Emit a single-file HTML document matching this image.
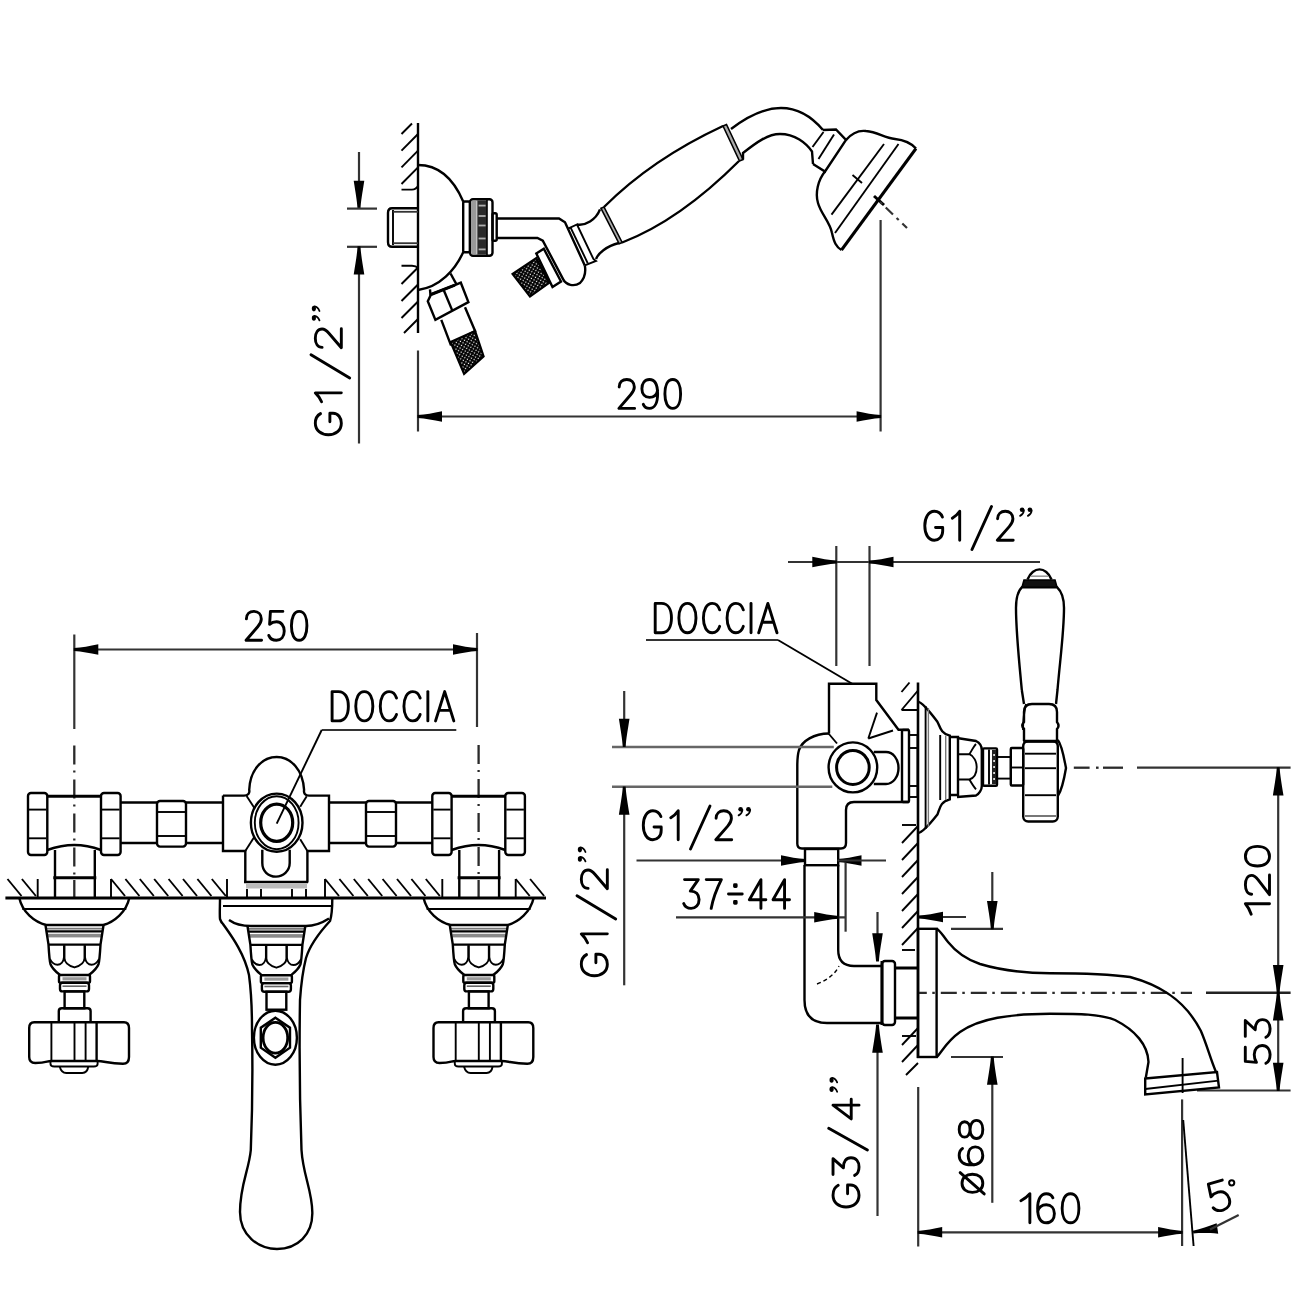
<!DOCTYPE html>
<html><head><meta charset="utf-8"><title>drawing</title><style>
html,body{margin:0;padding:0;background:#fff;width:1300px;height:1300px;overflow:hidden}
svg{display:block}
text{font-family:"Liberation Sans",sans-serif;fill:#000}
</style></head><body>
<svg width="1300" height="1300" viewBox="0 0 1300 1300">
<defs>
<pattern id="xh" width="3" height="3" patternUnits="userSpaceOnUse" patternTransform="rotate(30)">
<rect width="3" height="3" fill="#fff"/>
<path d="M0,0.9 H3 M0.9,0 V3" stroke="#000" stroke-width="1.8"/>
</pattern>
</defs>
<rect width="1300" height="1300" fill="#fff"/>
<line x1="418" y1="123" x2="418" y2="333" stroke="#000" stroke-width="2.4" fill="none"/>
<line x1="401.5" y1="134" x2="412" y2="123.5" stroke="#000" stroke-width="1.9" fill="none"/>
<line x1="401.5" y1="150.7" x2="418" y2="134" stroke="#000" stroke-width="1.9" fill="none"/>
<line x1="401.5" y1="167.3" x2="418" y2="150.6" stroke="#000" stroke-width="1.9" fill="none"/>
<line x1="401.5" y1="184" x2="418" y2="167.3" stroke="#000" stroke-width="1.9" fill="none"/>
<path d="M401.5,189.6 H412 Q416,189.6 418,186" stroke="#000" stroke-width="1.9" fill="none"/>
<path d="M401.5,265.8 H412 Q416,265.8 418,268" stroke="#000" stroke-width="1.9" fill="none"/>
<line x1="401.5" y1="284" x2="418" y2="267.5" stroke="#000" stroke-width="1.9" fill="none"/>
<line x1="401.5" y1="301" x2="418" y2="284.5" stroke="#000" stroke-width="1.9" fill="none"/>
<line x1="401.5" y1="318" x2="418" y2="301.5" stroke="#000" stroke-width="1.9" fill="none"/>
<line x1="404" y1="333" x2="418" y2="319" stroke="#000" stroke-width="1.9" fill="none"/>
<path d="M418,208.3 H392 Q388,208.3 388,213 V242 Q388,246.8 392,246.8 H418" stroke="#000" stroke-width="2.4" fill="none"/>
<line x1="393" y1="210" x2="393" y2="245" stroke="#000" stroke-width="1.9" fill="none"/>
<line x1="393" y1="211.8" x2="418" y2="211.8" stroke="#333" stroke-width="1.8"/>
<line x1="393" y1="243.2" x2="418" y2="243.2" stroke="#333" stroke-width="1.8"/>
<path d="M418,165 C440,165 454,180 463.2,201.5" stroke="#000" stroke-width="2.4" fill="none"/>
<path d="M463.2,252.3 C455,270 440,287 418,290" stroke="#000" stroke-width="2.4" fill="none"/>
<rect x="463.2" y="201.5" width="6.8" height="50.8" rx="1.5" stroke="#000" stroke-width="2.4" fill="none"/>
<rect x="470" y="199.2" width="22.5" height="56.6" rx="3" stroke="#000" stroke-width="2.4" fill="none"/>
<rect x="471.4" y="200.6" width="5.2" height="53.8" rx="0" fill="#9a9a9a" stroke="none"/>
<rect x="477.3" y="200.4" width="9.6" height="54.2" rx="0" fill="#2a2a2a" stroke="none"/>
<rect x="478.6" y="204.7" width="7" height="1.8" rx="0" fill="#b0b0b0" stroke="none"/>
<rect x="478.6" y="215.1" width="7" height="1.8" rx="0" fill="#b0b0b0" stroke="none"/>
<rect x="478.6" y="224.6" width="7" height="1.8" rx="0" fill="#b0b0b0" stroke="none"/>
<rect x="478.6" y="237.6" width="7" height="1.8" rx="0" fill="#b0b0b0" stroke="none"/>
<rect x="478.6" y="248.5" width="7" height="1.8" rx="0" fill="#b0b0b0" stroke="none"/>
<line x1="487" y1="200" x2="487" y2="255" stroke="#000" stroke-width="1.6"/>
<rect x="492.5" y="213.2" width="4.2" height="27.6" rx="1.5" stroke="#000" stroke-width="2.4" fill="none"/>
<path d="M496.7,218.5 H559 L565,222.3 L584.8,265.4" stroke="#000" stroke-width="2.4" fill="none"/>
<path d="M496.7,238 H537.4 L542.8,240.6 L563.2,279.4 C566,285 574,287 580,283 C584,279 586,272 584.8,265.4" stroke="#000" stroke-width="2.4" fill="none"/>
<path d="M567.5,228.8 L577,224.5 L593.4,259 L596,261 L584.8,265.4" stroke="#000" stroke-width="1.9" fill="none"/>
<line x1="570.5" y1="227.3" x2="587.8" y2="263.3" stroke="#000" stroke-width="1.9" fill="none"/>
<path d="M577,224.5 C585,226 596,220 600,209.4" stroke="#000" stroke-width="2.4" fill="none"/>
<path d="M596,259 C598,254 606,246 619,243" stroke="#000" stroke-width="2.4" fill="none"/>
<polygon points="601,208.3 604,207 622.2,242.5 619.2,243.8" fill="#aaa" stroke="#000" stroke-width="1.6"/>
<path d="M604,207 C638,173 680,146 723,126" stroke="#000" stroke-width="2.4" fill="none"/>
<path d="M622.2,242.5 C665,226 705,195 739,161" stroke="#000" stroke-width="2.4" fill="none"/>
<polygon points="723,126 726.5,124.5 743,159.5 739.5,161" fill="#aaa" stroke="#000" stroke-width="1.6"/>
<path d="M731,129 C748,116 765,108 781,108 C798,108 812,117 823,130" stroke="#000" stroke-width="2.4" fill="none"/>
<path d="M743,159.5 L743,153 C757,142 768,134 780,134 C795,134 806,143 812,151.5 L813,164" stroke="#000" stroke-width="2.4" fill="none"/>
<path d="M823,130 L836,129.5 L846,140 L825,171.5 L813,164" stroke="#000" stroke-width="2.4" fill="none"/>
<line x1="812.5" y1="147" x2="823.5" y2="132" stroke="#000" stroke-width="1.9" fill="none"/>
<line x1="818.5" y1="159" x2="834" y2="134.5" stroke="#000" stroke-width="1.9" fill="none"/>
<path d="M846,140 C852,133 858,130 866,131 C878,132 884,138 895,139 C905,140 911,143 916,148.5" stroke="#000" stroke-width="2.4" fill="none"/>
<line x1="916" y1="148.5" x2="841.5" y2="250" stroke="#000" stroke-width="3"/>
<path d="M825,171.5 C818,180 815,193 818,203 C821,214 830,222 832,233 C834,242 836,247 841.5,250" stroke="#000" stroke-width="2.4" fill="none"/>
<line x1="884" y1="144" x2="831.5" y2="214.6" stroke="#000" stroke-width="1.9" fill="none"/>
<line x1="898.5" y1="144" x2="835" y2="233" stroke="#000" stroke-width="1.9" fill="none"/>
<line x1="852.5" y1="175" x2="862" y2="183" stroke="#000" stroke-width="1.9" fill="none"/>
<line x1="874" y1="196" x2="884" y2="205" stroke="#000" stroke-width="3"/>
<line x1="880" y1="202" x2="907" y2="228" stroke="#333" stroke-width="2.2" fill="none" stroke-dasharray="3 5 10 5"/>
<line x1="359" y1="152" x2="359" y2="208.6" stroke="#333" stroke-width="2.2" fill="none"/>
<path transform="translate(359 208.6) rotate(90)" d="M0.5,-1.4 C-8,-2 -15,-3.3 -27.8,-5.3 L-27.8,5.3 C-15,3.3 -8,2 0.5,1.4 Z" fill="#000"/>
<line x1="347" y1="208.6" x2="377" y2="208.6" stroke="#333" stroke-width="2.2" fill="none"/>
<line x1="347" y1="246.8" x2="377" y2="246.8" stroke="#333" stroke-width="2.2" fill="none"/>
<line x1="359" y1="246.8" x2="359" y2="443.5" stroke="#333" stroke-width="2.2" fill="none"/>
<path transform="translate(359 246.8) rotate(-90)" d="M0.5,-1.4 C-8,-2 -15,-3.3 -27.8,-5.3 L-27.8,5.3 C-15,3.3 -8,2 0.5,1.4 Z" fill="#000"/>
<g transform="translate(342.5 436.3) rotate(-90) scale(1.2 0.9)"><path transform="translate(1.3 -1.3) scale(0.2983 0.2890)" d="M59,-80 C54,-93 44,-100 32,-100 C12,-100 0,-78 0,-50 C0,-21 12,0 32,0 C47,0 60,-12 60,-32 V-44 H36" fill="none" stroke="#000" stroke-width="2.9" stroke-linecap="round" stroke-linejoin="round" vector-effect="non-scaling-stroke"/><path transform="translate(28.8 -1.3) scale(0.2467 0.2890)" d="M0,-76 C12,-82 22,-90 30,-100 V0" fill="none" stroke="#000" stroke-width="2.9" stroke-linecap="round" stroke-linejoin="round" vector-effect="non-scaling-stroke"/><path d="M48.5,8 L68,-35" fill="none" stroke="#000" stroke-width="2.9" stroke-linecap="round" stroke-linejoin="round" vector-effect="non-scaling-stroke"/><path transform="translate(73.8 -1.3) scale(0.2839 0.2890)" d="M1,-74 C1,-91 13,-100 28,-100 C44,-100 55,-90 55,-74 C55,-63 50,-56 42,-47 L0,0 H56" fill="none" stroke="#000" stroke-width="2.9" stroke-linecap="round" stroke-linejoin="round" vector-effect="non-scaling-stroke"/><circle cx="98.6" cy="-31.8" r="2.3" fill="#000"/><path d="M100.4,-31 C100.2,-28.5 98.8,-26.8 96.6,-25.6" fill="none" stroke="#000" stroke-width="1.8" stroke-linecap="round" vector-effect="non-scaling-stroke"/><circle cx="106.4" cy="-31.8" r="2.3" fill="#000"/><path d="M108.2,-31 C108,-28.5 106.6,-26.8 104.4,-25.6" fill="none" stroke="#000" stroke-width="1.8" stroke-linecap="round" vector-effect="non-scaling-stroke"/></g>
<path d="M430,289.3 L430.5,295.5" stroke="#000" stroke-width="2.4" fill="none"/>
<path d="M450.5,273.5 L456.5,284.3" stroke="#000" stroke-width="2.4" fill="none"/>
<polygon points="427.8,301.3 431,294.5 454.8,285.2 460.8,282.7 468.4,302.1 435.4,319.9" stroke="#000" stroke-width="2.4" fill="none"/>
<line x1="431" y1="294.5" x2="454.8" y2="285.2" stroke="#000" stroke-width="3"/>
<line x1="443.8" y1="290.3" x2="452.3" y2="310.6" stroke="#000" stroke-width="2.4" fill="none"/>
<path d="M441.3,319.9 L450.6,344.4 L475.1,331 L465,307.2" stroke="#000" stroke-width="2.4" fill="none"/>
<polygon points="450.6,342 475.1,331 483.6,356.3 464.1,374" fill="url(#xh)" stroke="#000" stroke-width="2.2"/>
<polygon points="536.3,253.5 543.8,248.7 561,281.5 552.5,287" stroke="#000" stroke-width="2.4" fill="none"/>
<polygon points="512.6,274 536.3,258 549,283 530,296.6" fill="url(#xh)" stroke="#000" stroke-width="2.2"/>
<line x1="418" y1="350.5" x2="418" y2="431.5" stroke="#333" stroke-width="2.2" fill="none"/>
<line x1="880.6" y1="220" x2="880.6" y2="431.5" stroke="#333" stroke-width="2.2" fill="none"/>
<line x1="418" y1="416.5" x2="880.6" y2="416.5" stroke="#333" stroke-width="2.2" fill="none"/>
<path transform="translate(418 416.5) rotate(180)" d="M0.5,-1.4 C-8,-2 -15,-3.3 -24,-5.3 L-24,5.3 C-15,3.3 -8,2 0.5,1.4 Z" fill="#000"/>
<path transform="translate(880.6 416.5) rotate(0)" d="M0.5,-1.4 C-8,-2 -15,-3.3 -24,-5.3 L-24,5.3 C-15,3.3 -8,2 0.5,1.4 Z" fill="#000"/>
<g transform="translate(618.9 408.4) scale(0.2805 0.2890)"><path transform="translate(0 0)" d="M1,-74 C1,-91 13,-100 28,-100 C44,-100 55,-90 55,-74 C55,-63 50,-56 42,-47 L0,0 H56" fill="none" stroke="#000" stroke-width="2.9" stroke-linecap="round" stroke-linejoin="round" vector-effect="non-scaling-stroke"/><path transform="translate(82 0)" d="M5,-14 C9,-5 17,0 27,0 C46,0 56,-20 56,-50 C56,-83 45,-100 27,-100 C10,-100 0,-87 0,-68 C0,-50 11,-38 27,-38 C42,-38 53,-48 56,-62" fill="none" stroke="#000" stroke-width="2.9" stroke-linecap="round" stroke-linejoin="round" vector-effect="non-scaling-stroke"/><path transform="translate(164 0)" d="M28,-100 C9,-100 0,-78 0,-50 C0,-22 9,0 28,0 C47,0 56,-22 56,-50 C56,-78 47,-100 28,-100 Z" fill="none" stroke="#000" stroke-width="2.9" stroke-linecap="round" stroke-linejoin="round" vector-effect="non-scaling-stroke"/></g>
<line x1="74.3" y1="634.5" x2="74.3" y2="729" stroke="#333" stroke-width="2.2" fill="none"/>
<line x1="477" y1="633" x2="477" y2="727" stroke="#333" stroke-width="2.2" fill="none"/>
<line x1="74.3" y1="649.5" x2="477" y2="649.5" stroke="#333" stroke-width="2.2" fill="none"/>
<path transform="translate(74.3 649.5) rotate(180)" d="M0.5,-1.4 C-8,-2 -15,-3.3 -24,-5.3 L-24,5.3 C-15,3.3 -8,2 0.5,1.4 Z" fill="#000"/>
<path transform="translate(477 649.5) rotate(0)" d="M0.5,-1.4 C-8,-2 -15,-3.3 -24,-5.3 L-24,5.3 C-15,3.3 -8,2 0.5,1.4 Z" fill="#000"/>
<g transform="translate(246.1 640.3) scale(0.2764 0.2890)"><path transform="translate(0 0)" d="M1,-74 C1,-91 13,-100 28,-100 C44,-100 55,-90 55,-74 C55,-63 50,-56 42,-47 L0,0 H56" fill="none" stroke="#000" stroke-width="2.9" stroke-linecap="round" stroke-linejoin="round" vector-effect="non-scaling-stroke"/><path transform="translate(82 0)" d="M51,-100 H6 L3,-55 C10,-61 19,-64 28,-64 C45,-64 56,-50 56,-32 C56,-12 44,0 28,0 C14,0 4,-7 0,-17" fill="none" stroke="#000" stroke-width="2.9" stroke-linecap="round" stroke-linejoin="round" vector-effect="non-scaling-stroke"/><path transform="translate(164 0)" d="M28,-100 C9,-100 0,-78 0,-50 C0,-22 9,0 28,0 C47,0 56,-22 56,-50 C56,-78 47,-100 28,-100 Z" fill="none" stroke="#000" stroke-width="2.9" stroke-linecap="round" stroke-linejoin="round" vector-effect="non-scaling-stroke"/></g>
<g transform="translate(332.1 720.9) scale(0.2850 0.2930)"><path transform="translate(0 0)" d="M0,0 V-100 H22 C45,-100 57,-80 57,-50 C57,-20 45,0 22,0 Z" fill="none" stroke="#000" stroke-width="2.9" stroke-linecap="round" stroke-linejoin="round" vector-effect="non-scaling-stroke"/><path transform="translate(83 0)" d="M30,-100 C10,-100 0,-78 0,-50 C0,-22 10,0 30,0 C50,0 60,-22 60,-50 C60,-78 50,-100 30,-100 Z" fill="none" stroke="#000" stroke-width="2.9" stroke-linecap="round" stroke-linejoin="round" vector-effect="non-scaling-stroke"/><path transform="translate(169 0)" d="M57,-78 C52,-93 43,-100 31,-100 C11,-100 0,-78 0,-50 C0,-22 11,0 31,0 C43,0 52,-7 57,-22" fill="none" stroke="#000" stroke-width="2.9" stroke-linecap="round" stroke-linejoin="round" vector-effect="non-scaling-stroke"/><path transform="translate(252 0)" d="M57,-78 C52,-93 43,-100 31,-100 C11,-100 0,-78 0,-50 C0,-22 11,0 31,0 C43,0 52,-7 57,-22" fill="none" stroke="#000" stroke-width="2.9" stroke-linecap="round" stroke-linejoin="round" vector-effect="non-scaling-stroke"/><path transform="translate(335 0)" d="M1,0 V-100" fill="none" stroke="#000" stroke-width="2.9" stroke-linecap="round" stroke-linejoin="round" vector-effect="non-scaling-stroke"/><path transform="translate(363 0)" d="M0,0 L32,-100 L64,0 M13,-36 H51" fill="none" stroke="#000" stroke-width="2.9" stroke-linecap="round" stroke-linejoin="round" vector-effect="non-scaling-stroke"/></g>
<line x1="321.7" y1="730" x2="456.3" y2="730" stroke="#333" stroke-width="2.2" fill="none"/>
<line x1="321.7" y1="730" x2="276.7" y2="823.7" stroke="#000" stroke-width="1.9" fill="none"/>
<line x1="74.3" y1="745.6" x2="74.3" y2="881" stroke="#2a2a2a" stroke-width="2.3" fill="none" stroke-dasharray="19 6 2 7"/>
<line x1="478.6" y1="745" x2="478.6" y2="881" stroke="#2a2a2a" stroke-width="2.3" fill="none" stroke-dasharray="19 6 2 7"/>
<rect x="28" y="793" width="19.3" height="62" rx="3" stroke="#000" stroke-width="2.4" fill="none"/>
<line x1="29" y1="809.6" x2="46.3" y2="809.6" stroke="#000" stroke-width="1.9" fill="none"/>
<line x1="29" y1="838.3" x2="46.3" y2="838.3" stroke="#000" stroke-width="1.9" fill="none"/>
<rect x="101" y="793" width="19.6" height="62" rx="3" stroke="#000" stroke-width="2.4" fill="none"/>
<line x1="102" y1="809.6" x2="119.6" y2="809.6" stroke="#000" stroke-width="1.9" fill="none"/>
<line x1="102" y1="838.3" x2="119.6" y2="838.3" stroke="#000" stroke-width="1.9" fill="none"/>
<line x1="47.3" y1="796.3" x2="101" y2="796.3" stroke="#000" stroke-width="3"/>
<line x1="74.3" y1="880" x2="74.3" y2="897" stroke="#2a2a2a" stroke-width="2.3"/>
<path d="M47.3,850 C57.3,846.5 66.3,845 74.3,845 C82.3,845 91.3,846.5 101,850" stroke="#000" stroke-width="2.4" fill="none"/>
<path d="M55,850 V897 M94.8,850 V897" stroke="#000" stroke-width="2.4" fill="none"/>
<line x1="53.3" y1="877.8" x2="96.3" y2="877.8" stroke="#000" stroke-width="3"/>
<path d="M19.3,898 C22.3,912 34.3,922 46.3,925 L103.3,925 C114.3,922 126.3,912 129.3,898" stroke="#000" stroke-width="2.4" fill="none"/>
<line x1="22.3" y1="909" x2="126.3" y2="909" stroke="#000" stroke-width="1.9" fill="none"/>
<line x1="46" y1="928.6" x2="103" y2="928.6" stroke="#777" stroke-width="1.6"/>
<line x1="46.5" y1="931.4" x2="102.5" y2="931.4" stroke="#000" stroke-width="2.2"/>
<rect x="48" y="933.8" width="53" height="3.6" rx="0" fill="#8a8a8a" stroke="none"/>
<path d="M45.5,925.2 L48.5,944.6 C49,953.2 49.5,961.2 50.5,964.2 C52.5,969.2 56.5,972.2 60,975 M103.5,925.2 L100.5,944.6 C100,953.2 99.5,961.2 98.5,964.2 C96.5,969.2 92.5,972.2 89,975" stroke="#000" stroke-width="2.4" fill="none"/>
<line x1="48.5" y1="944.6" x2="100.5" y2="944.6" stroke="#000" stroke-width="2.4" fill="none"/>
<path d="M64.5,945.2 V958.2 C64.5,963.2 70.5,966.2 74.5,967.4 C78.5,966.2 84.5,963.2 84.5,958.2 V945.2" stroke="#000" stroke-width="1.9" fill="none"/>
<path d="M64,945.2 V957.2 C63.5,962.2 60.5,964.7 57.5,964.7 C54.5,964.7 51.5,962.2 50,959.2" stroke="#000" stroke-width="1.9" fill="none"/>
<path d="M85,945.2 V957.2 C85.5,962.2 88.5,964.7 91.5,964.7 C94.5,964.7 97.5,962.2 99,959.2" stroke="#000" stroke-width="1.9" fill="none"/>
<rect x="59" y="975" width="31" height="7.8" rx="1.5" stroke="#000" stroke-width="2.4" fill="none"/>
<rect x="62.5" y="977.2" width="24" height="3.2" rx="0" fill="#999" stroke="none"/>
<rect x="60" y="982.8" width="29" height="8.6" rx="2.5" stroke="#000" stroke-width="2.4" fill="none"/>
<line x1="62.5" y1="986.2" x2="86.5" y2="986.2" stroke="#666" stroke-width="1.6"/>
<rect x="64.6" y="991.4" width="19.7" height="16.9" rx="0" stroke="#000" stroke-width="2.4" fill="none"/>
<path d="M58.8,1022.2 V1011 Q58.8,1008.3 61.8,1008.3 H87.6 Q90.6,1008.3 90.6,1011 V1022.2" stroke="#000" stroke-width="2.4" fill="none"/>
<path d="M34.2,1022.2 H124 Q129,1022.2 129,1028 V1057 Q129,1063.8 123,1063.8 C109,1063.8 104.3,1061 97.3,1061 H51.3 C46.3,1061 47.2,1063 35.2,1063 Q29.2,1063 29.2,1057 V1028 Q29.2,1022.2 34.2,1022.2 Z" stroke="#000" stroke-width="2.4" fill="none"/>
<line x1="51.4" y1="1023" x2="51.4" y2="1061" stroke="#000" stroke-width="1.9" fill="none"/>
<line x1="74.5" y1="1023" x2="74.5" y2="1061" stroke="#000" stroke-width="1.9" fill="none"/>
<line x1="85.6" y1="1023" x2="85.6" y2="1061" stroke="#000" stroke-width="1.9" fill="none"/>
<line x1="96.6" y1="1023" x2="96.6" y2="1061" stroke="#000" stroke-width="2.4" fill="none"/>
<path d="M50.5,1061 V1064 Q50.5,1066.5 54.3,1066.5 H93.8 Q97.6,1066.5 97.6,1064 V1061" stroke="#000" stroke-width="1.9" fill="none"/>
<path d="M59.7,1066.5 Q61.3,1073 66.3,1073 H82.3 Q87.3,1073 88.3,1066.5" stroke="#000" stroke-width="1.9" fill="none"/>
<rect x="432.3" y="793" width="19.3" height="62" rx="3" stroke="#000" stroke-width="2.4" fill="none"/>
<line x1="433.3" y1="809.6" x2="450.6" y2="809.6" stroke="#000" stroke-width="1.9" fill="none"/>
<line x1="433.3" y1="838.3" x2="450.6" y2="838.3" stroke="#000" stroke-width="1.9" fill="none"/>
<rect x="505.3" y="793" width="19.6" height="62" rx="3" stroke="#000" stroke-width="2.4" fill="none"/>
<line x1="506.3" y1="809.6" x2="523.9" y2="809.6" stroke="#000" stroke-width="1.9" fill="none"/>
<line x1="506.3" y1="838.3" x2="523.9" y2="838.3" stroke="#000" stroke-width="1.9" fill="none"/>
<line x1="451.6" y1="796.3" x2="505.3" y2="796.3" stroke="#000" stroke-width="3"/>
<line x1="478.6" y1="880" x2="478.6" y2="897" stroke="#2a2a2a" stroke-width="2.3"/>
<path d="M451.6,850 C461.6,846.5 470.6,845 478.6,845 C486.6,845 495.6,846.5 505.3,850" stroke="#000" stroke-width="2.4" fill="none"/>
<path d="M459.3,850 V897 M499.1,850 V897" stroke="#000" stroke-width="2.4" fill="none"/>
<line x1="457.6" y1="877.8" x2="500.6" y2="877.8" stroke="#000" stroke-width="3"/>
<path d="M423.6,898 C426.6,912 438.6,922 450.6,925 L507.6,925 C518.6,922 530.6,912 533.6,898" stroke="#000" stroke-width="2.4" fill="none"/>
<line x1="426.6" y1="909" x2="530.6" y2="909" stroke="#000" stroke-width="1.9" fill="none"/>
<line x1="450.3" y1="928.6" x2="507.3" y2="928.6" stroke="#777" stroke-width="1.6"/>
<line x1="450.8" y1="931.4" x2="506.8" y2="931.4" stroke="#000" stroke-width="2.2"/>
<rect x="452.3" y="933.8" width="53" height="3.6" rx="0" fill="#8a8a8a" stroke="none"/>
<path d="M449.8,925.2 L452.8,944.6 C453.3,953.2 453.8,961.2 454.8,964.2 C456.8,969.2 460.8,972.2 464.3,975 M507.8,925.2 L504.8,944.6 C504.3,953.2 503.8,961.2 502.8,964.2 C500.8,969.2 496.8,972.2 493.3,975" stroke="#000" stroke-width="2.4" fill="none"/>
<line x1="452.8" y1="944.6" x2="504.8" y2="944.6" stroke="#000" stroke-width="2.4" fill="none"/>
<path d="M468.8,945.2 V958.2 C468.8,963.2 474.8,966.2 478.8,967.4 C482.8,966.2 488.8,963.2 488.8,958.2 V945.2" stroke="#000" stroke-width="1.9" fill="none"/>
<path d="M468.3,945.2 V957.2 C467.8,962.2 464.8,964.7 461.8,964.7 C458.8,964.7 455.8,962.2 454.3,959.2" stroke="#000" stroke-width="1.9" fill="none"/>
<path d="M489.3,945.2 V957.2 C489.8,962.2 492.8,964.7 495.8,964.7 C498.8,964.7 501.8,962.2 503.3,959.2" stroke="#000" stroke-width="1.9" fill="none"/>
<rect x="463.3" y="975" width="31" height="7.8" rx="1.5" stroke="#000" stroke-width="2.4" fill="none"/>
<rect x="466.8" y="977.2" width="24" height="3.2" rx="0" fill="#999" stroke="none"/>
<rect x="464.3" y="982.8" width="29" height="8.6" rx="2.5" stroke="#000" stroke-width="2.4" fill="none"/>
<line x1="466.8" y1="986.2" x2="490.8" y2="986.2" stroke="#666" stroke-width="1.6"/>
<rect x="468.9" y="991.4" width="19.7" height="16.9" rx="0" stroke="#000" stroke-width="2.4" fill="none"/>
<path d="M463.1,1022.2 V1011 Q463.1,1008.3 466.1,1008.3 H491.9 Q494.9,1008.3 494.9,1011 V1022.2" stroke="#000" stroke-width="2.4" fill="none"/>
<path d="M438.5,1022.2 H528.3 Q533.3,1022.2 533.3,1028 V1057 Q533.3,1063.8 527.3,1063.8 C513.3,1063.8 508.6,1061 501.6,1061 H455.6 C450.6,1061 451.5,1063 439.5,1063 Q433.5,1063 433.5,1057 V1028 Q433.5,1022.2 438.5,1022.2 Z" stroke="#000" stroke-width="2.4" fill="none"/>
<line x1="455.7" y1="1023" x2="455.7" y2="1061" stroke="#000" stroke-width="1.9" fill="none"/>
<line x1="478.8" y1="1023" x2="478.8" y2="1061" stroke="#000" stroke-width="1.9" fill="none"/>
<line x1="489.9" y1="1023" x2="489.9" y2="1061" stroke="#000" stroke-width="1.9" fill="none"/>
<line x1="500.9" y1="1023" x2="500.9" y2="1061" stroke="#000" stroke-width="2.4" fill="none"/>
<path d="M454.8,1061 V1064 Q454.8,1066.5 458.6,1066.5 H498.1 Q501.9,1066.5 501.9,1064 V1061" stroke="#000" stroke-width="1.9" fill="none"/>
<path d="M464,1066.5 Q465.6,1073 470.6,1073 H486.6 Q491.6,1073 492.6,1066.5" stroke="#000" stroke-width="1.9" fill="none"/>
<line x1="120.6" y1="802.5" x2="157" y2="802.5" stroke="#000" stroke-width="2.4" fill="none"/>
<line x1="120.6" y1="843" x2="157" y2="843" stroke="#000" stroke-width="2.4" fill="none"/>
<line x1="186" y1="802.5" x2="223" y2="802.5" stroke="#000" stroke-width="2.4" fill="none"/>
<line x1="186" y1="843" x2="223" y2="843" stroke="#000" stroke-width="2.4" fill="none"/>
<line x1="329" y1="802.5" x2="366" y2="802.5" stroke="#000" stroke-width="2.4" fill="none"/>
<line x1="329" y1="843" x2="366" y2="843" stroke="#000" stroke-width="2.4" fill="none"/>
<line x1="396" y1="802.5" x2="432" y2="802.5" stroke="#000" stroke-width="2.4" fill="none"/>
<line x1="396" y1="843" x2="432" y2="843" stroke="#000" stroke-width="2.4" fill="none"/>
<rect x="157" y="801" width="29" height="45.6" rx="3" stroke="#000" stroke-width="2.4" fill="none"/>
<line x1="158" y1="812" x2="185" y2="812" stroke="#000" stroke-width="1.9" fill="none"/>
<line x1="158" y1="836" x2="185" y2="836" stroke="#000" stroke-width="1.9" fill="none"/>
<rect x="366" y="801" width="30" height="45.6" rx="3" stroke="#000" stroke-width="2.4" fill="none"/>
<line x1="367" y1="812" x2="395" y2="812" stroke="#000" stroke-width="1.9" fill="none"/>
<line x1="367" y1="836" x2="395" y2="836" stroke="#000" stroke-width="1.9" fill="none"/>
<path d="M223,795.6 H244 C248,795.6 250,793 249.2,790 C250,770 262,757 276.7,757 C291,757 303,770 304.1,790 C303.5,793 305,795.6 309,795.6 H329 V851 H307.4 V882.5 M223,795.6 V851 H245.3 V882.5" stroke="#000" stroke-width="2.4" fill="none"/>
<line x1="244" y1="882" x2="308" y2="882" stroke="#000" stroke-width="2.6"/>
<rect x="246" y="883.5" width="61" height="5" rx="0" fill="#bbb" stroke="none"/>
<path d="M247,889 V897 M261,889 V897 M292,889 V897 M306,889 V897" stroke="#000" stroke-width="1.9" fill="none"/>
<line x1="246.6" y1="796" x2="254.4" y2="808" stroke="#000" stroke-width="1.9" fill="none"/>
<line x1="300.2" y1="806.7" x2="306.7" y2="796.2" stroke="#000" stroke-width="1.9" fill="none"/>
<line x1="245.3" y1="851" x2="254.4" y2="836.7" stroke="#000" stroke-width="1.9" fill="none"/>
<line x1="300.2" y1="839.3" x2="307.4" y2="851" stroke="#000" stroke-width="1.9" fill="none"/>
<ellipse cx="276.7" cy="822.7" rx="25.8" ry="29.1" stroke="#000" stroke-width="2.4" fill="none"/>
<ellipse cx="276.7" cy="822.7" rx="21.9" ry="26.5" stroke="#000" stroke-width="1.9" fill="none"/>
<ellipse cx="276.7" cy="822.7" rx="16" ry="18.6" stroke="#000" stroke-width="3.2" fill="none"/>
<path d="M262.3,849.8 V863 C262.3,871 268,876.6 276,876.6 C283,876.6 289.7,871 289.7,863 V849.8" stroke="#000" stroke-width="2.4" fill="none"/>
<line x1="5.4" y1="897.9" x2="546" y2="897.9" stroke="#000" stroke-width="3"/>
<line x1="7.5" y1="879" x2="21.5" y2="896" stroke="#000" stroke-width="1.9" fill="none"/>
<line x1="21.9" y1="879" x2="35.9" y2="896" stroke="#000" stroke-width="1.9" fill="none"/>
<line x1="111" y1="879" x2="125" y2="896" stroke="#000" stroke-width="1.9" fill="none"/>
<line x1="125.4" y1="879" x2="139.4" y2="896" stroke="#000" stroke-width="1.9" fill="none"/>
<line x1="139.8" y1="879" x2="153.8" y2="896" stroke="#000" stroke-width="1.9" fill="none"/>
<line x1="154.2" y1="879" x2="168.2" y2="896" stroke="#000" stroke-width="1.9" fill="none"/>
<line x1="168.6" y1="879" x2="182.6" y2="896" stroke="#000" stroke-width="1.9" fill="none"/>
<line x1="183" y1="879" x2="197" y2="896" stroke="#000" stroke-width="1.9" fill="none"/>
<line x1="197.4" y1="879" x2="211.4" y2="896" stroke="#000" stroke-width="1.9" fill="none"/>
<line x1="211.8" y1="879" x2="225.8" y2="896" stroke="#000" stroke-width="1.9" fill="none"/>
<line x1="325" y1="879" x2="339" y2="896" stroke="#000" stroke-width="1.9" fill="none"/>
<line x1="339.4" y1="879" x2="353.4" y2="896" stroke="#000" stroke-width="1.9" fill="none"/>
<line x1="353.8" y1="879" x2="367.8" y2="896" stroke="#000" stroke-width="1.9" fill="none"/>
<line x1="368.2" y1="879" x2="382.2" y2="896" stroke="#000" stroke-width="1.9" fill="none"/>
<line x1="382.6" y1="879" x2="396.6" y2="896" stroke="#000" stroke-width="1.9" fill="none"/>
<line x1="397" y1="879" x2="411" y2="896" stroke="#000" stroke-width="1.9" fill="none"/>
<line x1="411.4" y1="879" x2="425.4" y2="896" stroke="#000" stroke-width="1.9" fill="none"/>
<line x1="425.8" y1="879" x2="439.8" y2="896" stroke="#000" stroke-width="1.9" fill="none"/>
<line x1="515.7" y1="879" x2="529.7" y2="896" stroke="#000" stroke-width="1.9" fill="none"/>
<line x1="530.1" y1="879" x2="544.1" y2="896" stroke="#000" stroke-width="1.9" fill="none"/>
<line x1="37.7" y1="879" x2="37.7" y2="897" stroke="#000" stroke-width="1.9" fill="none"/>
<line x1="111" y1="879" x2="111" y2="897" stroke="#000" stroke-width="1.9" fill="none"/>
<line x1="227" y1="879" x2="227" y2="897" stroke="#000" stroke-width="1.9" fill="none"/>
<line x1="325" y1="879" x2="325" y2="897" stroke="#000" stroke-width="1.9" fill="none"/>
<line x1="442.3" y1="879" x2="442.3" y2="897" stroke="#000" stroke-width="1.9" fill="none"/>
<line x1="515.7" y1="879" x2="515.7" y2="897" stroke="#000" stroke-width="1.9" fill="none"/>
<path d="M220,898 C220,906 219.5,914 220,919 C221,922 222,923 223,924 C230,934 244,952 249,975 C251,990 252,1010 252,1029 C253,1080 252,1120 250.8,1150 C249,1170 240,1185 240,1212 C240,1235 258,1249 277,1249 C297,1249 313,1235 312.3,1212 C312,1190 303,1175 301.5,1150 C300,1110 299,1060 300,1000 C301,985 303,970 306,958 C310,945 318,934 330,921 C332,915 332.3,905 332.3,898" stroke="#000" stroke-width="2.4" fill="none"/>
<path d="M223,906 H331" stroke="#000" stroke-width="1.9" fill="none"/>
<path d="M229,920 C236,925 244,926 251,926 H306 C315,926 322,923 329,918.5" stroke="#000" stroke-width="2.4" fill="none"/>
<line x1="247.9" y1="928.9" x2="304.9" y2="928.9" stroke="#777" stroke-width="1.6"/>
<line x1="248.4" y1="931.7" x2="304.4" y2="931.7" stroke="#000" stroke-width="2.2"/>
<rect x="249.9" y="934.1" width="53" height="3.6" rx="0" fill="#8a8a8a" stroke="none"/>
<path d="M247.4,925.5 L250.4,944.9 C250.9,953.5 251.4,961.5 252.4,964.5 C254.4,969.5 258.4,972.5 261.9,975.3 M305.4,925.5 L302.4,944.9 C301.9,953.5 301.4,961.5 300.4,964.5 C298.4,969.5 294.4,972.5 290.9,975.3" stroke="#000" stroke-width="2.4" fill="none"/>
<line x1="250.4" y1="944.9" x2="302.4" y2="944.9" stroke="#000" stroke-width="2.4" fill="none"/>
<path d="M266.4,945.5 V958.5 C266.4,963.5 272.4,966.5 276.4,967.7 C280.4,966.5 286.4,963.5 286.4,958.5 V945.5" stroke="#000" stroke-width="1.9" fill="none"/>
<path d="M265.9,945.5 V957.5 C265.4,962.5 262.4,965 259.4,965 C256.4,965 253.4,962.5 251.9,959.5" stroke="#000" stroke-width="1.9" fill="none"/>
<path d="M286.9,945.5 V957.5 C287.4,962.5 290.4,965 293.4,965 C296.4,965 299.4,962.5 300.9,959.5" stroke="#000" stroke-width="1.9" fill="none"/>
<rect x="260.9" y="975.3" width="31" height="7.8" rx="1.5" stroke="#000" stroke-width="2.4" fill="none"/>
<rect x="264.4" y="977.5" width="24" height="3.2" rx="0" fill="#999" stroke="none"/>
<rect x="261.9" y="983.1" width="29" height="8.6" rx="2.5" stroke="#000" stroke-width="2.4" fill="none"/>
<line x1="264.4" y1="986.5" x2="288.4" y2="986.5" stroke="#666" stroke-width="1.6"/>
<rect x="266.5" y="991.7" width="19.8" height="18" rx="0" stroke="#000" stroke-width="2.4" fill="none"/>
<ellipse cx="275.4" cy="1037.7" rx="21.5" ry="27" stroke="#000" stroke-width="2.4" fill="none"/>
<polygon points="275.4,1017.7 290,1027.7 290,1047.7 275.4,1057.7 260.8,1047.7 260.8,1027.7" stroke="#000" stroke-width="2.4" fill="none"/>
<ellipse cx="275.4" cy="1037.7" rx="12.3" ry="15.4" stroke="#000" stroke-width="2.8" fill="none"/>
<line x1="836.3" y1="546" x2="836.3" y2="666" stroke="#333" stroke-width="2.2" fill="none"/>
<line x1="869.5" y1="546" x2="869.5" y2="666" stroke="#333" stroke-width="2.2" fill="none"/>
<line x1="788" y1="562" x2="1040" y2="562" stroke="#333" stroke-width="2.2" fill="none"/>
<path transform="translate(836.3 562) rotate(0)" d="M0.5,-1.4 C-8,-2 -15,-3.3 -24,-5.3 L-24,5.3 C-15,3.3 -8,2 0.5,1.4 Z" fill="#000"/>
<path transform="translate(869.5 562) rotate(180)" d="M0.5,-1.4 C-8,-2 -15,-3.3 -24,-5.3 L-24,5.3 C-15,3.3 -8,2 0.5,1.4 Z" fill="#000"/>
<g transform="translate(923.5 541.5)"><path transform="translate(1.3 -1.3) scale(0.2983 0.2890)" d="M59,-80 C54,-93 44,-100 32,-100 C12,-100 0,-78 0,-50 C0,-21 12,0 32,0 C47,0 60,-12 60,-32 V-44 H36" fill="none" stroke="#000" stroke-width="2.9" stroke-linecap="round" stroke-linejoin="round" vector-effect="non-scaling-stroke"/><path transform="translate(28.8 -1.3) scale(0.2467 0.2890)" d="M0,-76 C12,-82 22,-90 30,-100 V0" fill="none" stroke="#000" stroke-width="2.9" stroke-linecap="round" stroke-linejoin="round" vector-effect="non-scaling-stroke"/><path d="M48.5,8 L68,-35" fill="none" stroke="#000" stroke-width="2.9" stroke-linecap="round" stroke-linejoin="round" vector-effect="non-scaling-stroke"/><path transform="translate(73.8 -1.3) scale(0.2839 0.2890)" d="M1,-74 C1,-91 13,-100 28,-100 C44,-100 55,-90 55,-74 C55,-63 50,-56 42,-47 L0,0 H56" fill="none" stroke="#000" stroke-width="2.9" stroke-linecap="round" stroke-linejoin="round" vector-effect="non-scaling-stroke"/><circle cx="98.6" cy="-31.8" r="2.3" fill="#000"/><path d="M100.4,-31 C100.2,-28.5 98.8,-26.8 96.6,-25.6" fill="none" stroke="#000" stroke-width="1.8" stroke-linecap="round" vector-effect="non-scaling-stroke"/><circle cx="106.4" cy="-31.8" r="2.3" fill="#000"/><path d="M108.2,-31 C108,-28.5 106.6,-26.8 104.4,-25.6" fill="none" stroke="#000" stroke-width="1.8" stroke-linecap="round" vector-effect="non-scaling-stroke"/></g>
<g transform="translate(655.2 632.8) scale(0.2852 0.2940)"><path transform="translate(0 0)" d="M0,0 V-100 H22 C45,-100 57,-80 57,-50 C57,-20 45,0 22,0 Z" fill="none" stroke="#000" stroke-width="2.9" stroke-linecap="round" stroke-linejoin="round" vector-effect="non-scaling-stroke"/><path transform="translate(83 0)" d="M30,-100 C10,-100 0,-78 0,-50 C0,-22 10,0 30,0 C50,0 60,-22 60,-50 C60,-78 50,-100 30,-100 Z" fill="none" stroke="#000" stroke-width="2.9" stroke-linecap="round" stroke-linejoin="round" vector-effect="non-scaling-stroke"/><path transform="translate(169 0)" d="M57,-78 C52,-93 43,-100 31,-100 C11,-100 0,-78 0,-50 C0,-22 11,0 31,0 C43,0 52,-7 57,-22" fill="none" stroke="#000" stroke-width="2.9" stroke-linecap="round" stroke-linejoin="round" vector-effect="non-scaling-stroke"/><path transform="translate(252 0)" d="M57,-78 C52,-93 43,-100 31,-100 C11,-100 0,-78 0,-50 C0,-22 11,0 31,0 C43,0 52,-7 57,-22" fill="none" stroke="#000" stroke-width="2.9" stroke-linecap="round" stroke-linejoin="round" vector-effect="non-scaling-stroke"/><path transform="translate(335 0)" d="M1,0 V-100" fill="none" stroke="#000" stroke-width="2.9" stroke-linecap="round" stroke-linejoin="round" vector-effect="non-scaling-stroke"/><path transform="translate(363 0)" d="M0,0 L32,-100 L64,0 M13,-36 H51" fill="none" stroke="#000" stroke-width="2.9" stroke-linecap="round" stroke-linejoin="round" vector-effect="non-scaling-stroke"/></g>
<line x1="646" y1="640" x2="778" y2="640" stroke="#333" stroke-width="2.2" fill="none"/>
<line x1="778" y1="640" x2="853" y2="684.3" stroke="#000" stroke-width="1.9" fill="none"/>
<line x1="918" y1="682.5" x2="918" y2="1058" stroke="#000" stroke-width="2.6"/>
<line x1="901.5" y1="692" x2="909.5" y2="682.5" stroke="#000" stroke-width="1.9" fill="none"/>
<path d="M901.5,710 L918,690.5 M901.5,710 H918" stroke="#000" stroke-width="1.9" fill="none"/>
<path d="M902,825 H916" stroke="#000" stroke-width="1.9" fill="none"/>
<line x1="902" y1="843" x2="918" y2="826" stroke="#000" stroke-width="1.9" fill="none"/>
<line x1="902" y1="860" x2="918" y2="843" stroke="#000" stroke-width="1.9" fill="none"/>
<line x1="902" y1="877" x2="918" y2="860" stroke="#000" stroke-width="1.9" fill="none"/>
<line x1="902" y1="894" x2="918" y2="877" stroke="#000" stroke-width="1.9" fill="none"/>
<line x1="902" y1="911" x2="918" y2="894" stroke="#000" stroke-width="1.9" fill="none"/>
<line x1="902" y1="928" x2="918" y2="911" stroke="#000" stroke-width="1.9" fill="none"/>
<line x1="902" y1="945" x2="918" y2="928" stroke="#000" stroke-width="1.9" fill="none"/>
<path d="M902,950 H915" stroke="#000" stroke-width="1.9" fill="none"/>
<path d="M902,1036 H916" stroke="#000" stroke-width="1.9" fill="none"/>
<line x1="902" y1="1045" x2="918" y2="1028" stroke="#000" stroke-width="1.9" fill="none"/>
<line x1="902" y1="1062" x2="918" y2="1045" stroke="#000" stroke-width="1.9" fill="none"/>
<line x1="906" y1="1075" x2="918" y2="1063" stroke="#000" stroke-width="1.9" fill="none"/>
<path d="M829,733.5 V683.7 H876.3 V700 L898.5,729.8 H909" stroke="#000" stroke-width="2.4" fill="none"/>
<path d="M829,733.5 C814,733.5 802,741 799,750 C797.5,755 797.3,760 797.3,766 V843 Q797,848.5 802,848.5 H841 Q846,848.5 846,843 V810 Q846,802 854,802 H909" stroke="#000" stroke-width="2.4" fill="none"/>
<line x1="828.5" y1="733.5" x2="837" y2="743.5" stroke="#000" stroke-width="1.9" fill="none"/>
<line x1="877" y1="712.6" x2="868.3" y2="738.5" stroke="#000" stroke-width="1.9" fill="none"/>
<line x1="868.3" y1="738.5" x2="893" y2="730.5" stroke="#000" stroke-width="1.9" fill="none"/>
<ellipse cx="852.9" cy="767.4" rx="24.3" ry="25" stroke="#000" stroke-width="2.4" fill="none"/>
<ellipse cx="852.9" cy="767.4" rx="16.3" ry="17" stroke="#000" stroke-width="3" fill="none"/>
<path d="M873.8,752 H886 C893,752 898.5,759 898.5,768 C898.5,777 893,784 886,784 H873.8" stroke="#000" stroke-width="2.4" fill="none"/>
<rect x="902" y="730" width="7" height="72" rx="1" stroke="#000" stroke-width="2.4" fill="none"/>
<rect x="909" y="735" width="8.5" height="62" rx="0" stroke="#000" stroke-width="1.9" fill="none"/>
<line x1="909" y1="748" x2="917.5" y2="748" stroke="#000" stroke-width="1.9" fill="none"/>
<line x1="909" y1="786" x2="917.5" y2="786" stroke="#000" stroke-width="1.9" fill="none"/>
<line x1="612" y1="747" x2="833.8" y2="747" stroke="#666" stroke-width="2.4"/>
<line x1="612" y1="786.7" x2="832.3" y2="786.7" stroke="#666" stroke-width="2.4"/>
<line x1="624.2" y1="691" x2="624.2" y2="746.5" stroke="#333" stroke-width="2.2" fill="none"/>
<path transform="translate(624.2 746.5) rotate(90)" d="M0.5,-1.4 C-8,-2 -15,-3.3 -27.8,-5.3 L-27.8,5.3 C-15,3.3 -8,2 0.5,1.4 Z" fill="#000"/>
<line x1="624.2" y1="787" x2="624.2" y2="985.3" stroke="#333" stroke-width="2.2" fill="none"/>
<path transform="translate(624.2 787) rotate(-90)" d="M0.5,-1.4 C-8,-2 -15,-3.3 -27.8,-5.3 L-27.8,5.3 C-15,3.3 -8,2 0.5,1.4 Z" fill="#000"/>
<g transform="translate(608.5 977.3) rotate(-90) scale(1.2 0.9)"><path transform="translate(1.3 -1.3) scale(0.2983 0.2890)" d="M59,-80 C54,-93 44,-100 32,-100 C12,-100 0,-78 0,-50 C0,-21 12,0 32,0 C47,0 60,-12 60,-32 V-44 H36" fill="none" stroke="#000" stroke-width="2.9" stroke-linecap="round" stroke-linejoin="round" vector-effect="non-scaling-stroke"/><path transform="translate(28.8 -1.3) scale(0.2467 0.2890)" d="M0,-76 C12,-82 22,-90 30,-100 V0" fill="none" stroke="#000" stroke-width="2.9" stroke-linecap="round" stroke-linejoin="round" vector-effect="non-scaling-stroke"/><path d="M48.5,8 L68,-35" fill="none" stroke="#000" stroke-width="2.9" stroke-linecap="round" stroke-linejoin="round" vector-effect="non-scaling-stroke"/><path transform="translate(73.8 -1.3) scale(0.2839 0.2890)" d="M1,-74 C1,-91 13,-100 28,-100 C44,-100 55,-90 55,-74 C55,-63 50,-56 42,-47 L0,0 H56" fill="none" stroke="#000" stroke-width="2.9" stroke-linecap="round" stroke-linejoin="round" vector-effect="non-scaling-stroke"/><circle cx="98.6" cy="-31.8" r="2.3" fill="#000"/><path d="M100.4,-31 C100.2,-28.5 98.8,-26.8 96.6,-25.6" fill="none" stroke="#000" stroke-width="1.8" stroke-linecap="round" vector-effect="non-scaling-stroke"/><circle cx="106.4" cy="-31.8" r="2.3" fill="#000"/><path d="M108.2,-31 C108,-28.5 106.6,-26.8 104.4,-25.6" fill="none" stroke="#000" stroke-width="1.8" stroke-linecap="round" vector-effect="non-scaling-stroke"/></g>
<path d="M918,701.8 C922,702 930,712 937.4,721.8 C940,726 940,733 949.8,735.7 V799.4 C940,802 940,808 937.4,814.6 C930,824 922,833 918,833" stroke="#000" stroke-width="2.4" fill="none"/>
<line x1="925.6" y1="706" x2="925.6" y2="829" stroke="#000" stroke-width="1.9" fill="none"/>
<line x1="928.4" y1="708" x2="928.4" y2="827" stroke="#777" stroke-width="1.4"/>
<line x1="940.2" y1="735" x2="940.2" y2="800" stroke="#000" stroke-width="1.9" fill="none"/>
<line x1="945.7" y1="735.5" x2="945.7" y2="800" stroke="#777" stroke-width="1.4"/>
<path d="M949.8,737 H958 V795 H949.8" stroke="#000" stroke-width="2.4" fill="none"/>
<path d="M957,738 L976,741 C980,743 981.8,746 981.8,750 V786 C981.8,790 979,794 976,795.5 L957,797" stroke="#000" stroke-width="2.4" fill="none"/>
<path d="M958,754.2 H969.4 C974,756 976.7,762 976.7,767 C976.7,773 974,778 969.4,779.5 H958" stroke="#000" stroke-width="1.9" fill="none"/>
<path d="M969.4,754.2 C972,750 974,746 976,744 M969.4,779.5 C972,784 974,787 976,789.3" stroke="#000" stroke-width="1.9" fill="none"/>
<rect x="983" y="748.4" width="14" height="37.3" rx="1" stroke="#000" stroke-width="2.4" fill="none"/>
<line x1="989" y1="749.5" x2="989" y2="784.5" stroke="#000" stroke-width="1.9" fill="none"/>
<rect x="992" y="750" width="4.2" height="34" rx="0" fill="#222" stroke="none"/>
<rect x="993.2" y="754" width="1.8" height="2" rx="0" fill="#ddd" stroke="none"/>
<rect x="993.2" y="760" width="1.8" height="2" rx="0" fill="#ddd" stroke="none"/>
<rect x="993.2" y="766" width="1.8" height="2" rx="0" fill="#ddd" stroke="none"/>
<rect x="993.2" y="772" width="1.8" height="2" rx="0" fill="#ddd" stroke="none"/>
<rect x="993.2" y="778" width="1.8" height="2" rx="0" fill="#ddd" stroke="none"/>
<rect x="997" y="757" width="13.8" height="21.6" rx="0" stroke="#000" stroke-width="1.9" fill="none"/>
<rect x="1010.8" y="748" width="12.4" height="37.5" rx="1" stroke="#000" stroke-width="2.4" fill="none"/>
<line x1="1010.8" y1="767.5" x2="1023.2" y2="767.5" stroke="#000" stroke-width="1.9" fill="none"/>
<path d="M1024,741 V728.8 Q1020.5,726 1024,722 V712 Q1024,704 1032,704 H1049 Q1057,704 1057,712 V722 Q1060,726 1057,729 V741" stroke="#000" stroke-width="2.4" fill="none"/>
<rect x="1023.2" y="741.2" width="34.6" height="80.3" rx="5" stroke="#000" stroke-width="2.4" fill="none"/>
<line x1="1023.2" y1="741.2" x2="1057.8" y2="741.2" stroke="#000" stroke-width="3"/>
<line x1="1025" y1="753.7" x2="1056" y2="753.7" stroke="#000" stroke-width="1.9" fill="none"/>
<line x1="1025" y1="768.2" x2="1056" y2="768.2" stroke="#000" stroke-width="1.9" fill="none"/>
<line x1="1025" y1="795.2" x2="1056" y2="795.2" stroke="#000" stroke-width="1.9" fill="none"/>
<line x1="1025" y1="816" x2="1056" y2="816" stroke="#555" stroke-width="1.6"/>
<path d="M1057.8,740 C1062,745 1064,758 1066,768 C1064,780 1062,790 1057.8,796" stroke="#000" stroke-width="2.4" fill="none"/>
<path d="M1021.8,690 C1019,660 1016,632 1016,608 C1016,598 1018,591 1022,587.2 H1057 C1061,591 1064,598 1064,608 C1064,632 1060,660 1057.5,690 L1056,704" stroke="#000" stroke-width="2.4" fill="none"/>
<line x1="1021.8" y1="690" x2="1024" y2="704" stroke="#000" stroke-width="2.4" fill="none"/>
<path d="M1027.5,579.5 C1030,573 1035,569.4 1039.5,569.4 C1044,569.4 1049,573 1051.5,579.5" stroke="#000" stroke-width="2.4" fill="none"/>
<path d="M1022,587.2 L1024,580 H1055 L1057,587.2 Z" fill="#111" stroke="#000" stroke-width="1.6"/>
<line x1="1031" y1="576.2" x2="1048" y2="576.2" stroke="#999" stroke-width="1.6"/>
<path d="M1026,704 C1024,712 1023,722 1023,730" stroke="#000" stroke-width="1.9" fill="none"/>
<line x1="1073.8" y1="767.7" x2="1089.6" y2="767.7" stroke="#2a2a2a" stroke-width="2.3" fill="none"/>
<line x1="1096" y1="767.7" x2="1098.6" y2="767.7" stroke="#2a2a2a" stroke-width="2.3" fill="none"/>
<line x1="1103" y1="767.7" x2="1123" y2="767.7" stroke="#2a2a2a" stroke-width="2.3" fill="none"/>
<line x1="1137" y1="767.7" x2="1290.6" y2="767.7" stroke="#333" stroke-width="2.2" fill="none"/>
<line x1="919" y1="992.8" x2="1192" y2="992.8" stroke="#2a2a2a" stroke-width="2.3" stroke-dasharray="16 5.5 2.5 6" stroke-dashoffset="8.2"/>
<line x1="1206" y1="992.8" x2="1290.6" y2="992.8" stroke="#222" stroke-width="2.6"/>
<line x1="1197" y1="1090.5" x2="1290.6" y2="1090.5" stroke="#333" stroke-width="2.2" fill="none"/>
<line x1="1278.2" y1="767.7" x2="1278.2" y2="1090.5" stroke="#333" stroke-width="2.2" fill="none"/>
<path transform="translate(1278.2 767.7) rotate(-90)" d="M0.5,-1.4 C-8,-2 -15,-3.3 -27.8,-5.3 L-27.8,5.3 C-15,3.3 -8,2 0.5,1.4 Z" fill="#000"/>
<path transform="translate(1278.2 992.8) rotate(90)" d="M0.5,-1.4 C-8,-2 -15,-3.3 -27.8,-5.3 L-27.8,5.3 C-15,3.3 -8,2 0.5,1.4 Z" fill="#000"/>
<path transform="translate(1278.2 992.8) rotate(-90)" d="M0.5,-1.4 C-8,-2 -15,-3.3 -27.8,-5.3 L-27.8,5.3 C-15,3.3 -8,2 0.5,1.4 Z" fill="#000"/>
<path transform="translate(1278.2 1090.5) rotate(90)" d="M0.5,-1.4 C-8,-2 -15,-3.3 -27.8,-5.3 L-27.8,5.3 C-15,3.3 -8,2 0.5,1.4 Z" fill="#000"/>
<g transform="translate(1269.5 914.2) rotate(-90) scale(0.3495 0.2410)"><path transform="translate(0 0)" d="M0,-76 C12,-82 22,-90 30,-100 V0" fill="none" stroke="#000" stroke-width="2.9" stroke-linecap="round" stroke-linejoin="round" vector-effect="non-scaling-stroke"/><path transform="translate(56 0)" d="M1,-74 C1,-91 13,-100 28,-100 C44,-100 55,-90 55,-74 C55,-63 50,-56 42,-47 L0,0 H56" fill="none" stroke="#000" stroke-width="2.9" stroke-linecap="round" stroke-linejoin="round" vector-effect="non-scaling-stroke"/><path transform="translate(138 0)" d="M28,-100 C9,-100 0,-78 0,-50 C0,-22 9,0 28,0 C47,0 56,-22 56,-50 C56,-78 47,-100 28,-100 Z" fill="none" stroke="#000" stroke-width="2.9" stroke-linecap="round" stroke-linejoin="round" vector-effect="non-scaling-stroke"/></g>
<g transform="translate(1270.1 1063.3) rotate(-90) scale(0.3167 0.2480)"><path transform="translate(0 0)" d="M51,-100 H6 L3,-55 C10,-61 19,-64 28,-64 C45,-64 56,-50 56,-32 C56,-12 44,0 28,0 C14,0 4,-7 0,-17" fill="none" stroke="#000" stroke-width="2.9" stroke-linecap="round" stroke-linejoin="round" vector-effect="non-scaling-stroke"/><path transform="translate(82 0)" d="M3,-100 H53 L24,-60 C44,-61 56,-49 56,-31 C56,-11 43,0 27,0 C14,0 4,-7 0,-17" fill="none" stroke="#000" stroke-width="2.9" stroke-linecap="round" stroke-linejoin="round" vector-effect="non-scaling-stroke"/></g>
<rect x="805" y="849" width="33.2" height="16.2" rx="0" stroke="#000" stroke-width="2.4" fill="none"/>
<path d="M804.5,865 V1000 Q804.5,1023 827,1023 H882" stroke="#000" stroke-width="2.4" fill="none"/>
<path d="M838.2,865 V950 Q838.2,966 854,966 H882" stroke="#000" stroke-width="2.4" fill="none"/>
<path d="M817,984 Q833,978 839,966" stroke="#000" stroke-width="1.4" fill="none" stroke-dasharray="4 3"/>
<rect x="882" y="961" width="13" height="64" rx="3" stroke="#000" stroke-width="2.4" fill="none"/>
<line x1="882" y1="961" x2="882" y2="1025" stroke="#000" stroke-width="3"/>
<line x1="895" y1="968" x2="918" y2="968" stroke="#000" stroke-width="3"/>
<line x1="895" y1="1018" x2="918" y2="1018" stroke="#000" stroke-width="3"/>
<g transform="translate(642 841)"><path transform="translate(1.3 -1.3) scale(0.2983 0.2890)" d="M59,-80 C54,-93 44,-100 32,-100 C12,-100 0,-78 0,-50 C0,-21 12,0 32,0 C47,0 60,-12 60,-32 V-44 H36" fill="none" stroke="#000" stroke-width="2.9" stroke-linecap="round" stroke-linejoin="round" vector-effect="non-scaling-stroke"/><path transform="translate(28.8 -1.3) scale(0.2467 0.2890)" d="M0,-76 C12,-82 22,-90 30,-100 V0" fill="none" stroke="#000" stroke-width="2.9" stroke-linecap="round" stroke-linejoin="round" vector-effect="non-scaling-stroke"/><path d="M48.5,8 L68,-35" fill="none" stroke="#000" stroke-width="2.9" stroke-linecap="round" stroke-linejoin="round" vector-effect="non-scaling-stroke"/><path transform="translate(73.8 -1.3) scale(0.2839 0.2890)" d="M1,-74 C1,-91 13,-100 28,-100 C44,-100 55,-90 55,-74 C55,-63 50,-56 42,-47 L0,0 H56" fill="none" stroke="#000" stroke-width="2.9" stroke-linecap="round" stroke-linejoin="round" vector-effect="non-scaling-stroke"/><circle cx="98.6" cy="-31.8" r="2.3" fill="#000"/><path d="M100.4,-31 C100.2,-28.5 98.8,-26.8 96.6,-25.6" fill="none" stroke="#000" stroke-width="1.8" stroke-linecap="round" vector-effect="non-scaling-stroke"/><circle cx="106.4" cy="-31.8" r="2.3" fill="#000"/><path d="M108.2,-31 C108,-28.5 106.6,-26.8 104.4,-25.6" fill="none" stroke="#000" stroke-width="1.8" stroke-linecap="round" vector-effect="non-scaling-stroke"/></g>
<line x1="636.5" y1="860.5" x2="805" y2="860.5" stroke="#333" stroke-width="2.2" fill="none"/>
<path transform="translate(805 860.5) rotate(0)" d="M0.5,-1.4 C-8,-2 -15,-3.3 -24,-5.3 L-24,5.3 C-15,3.3 -8,2 0.5,1.4 Z" fill="#000"/>
<path transform="translate(837.5 860.5) rotate(180)" d="M0.5,-1.4 C-8,-2 -15,-3.3 -24,-5.3 L-24,5.3 C-15,3.3 -8,2 0.5,1.4 Z" fill="#000"/>
<line x1="837.5" y1="860.5" x2="886" y2="860.5" stroke="#333" stroke-width="2.2" fill="none"/>
<g transform="translate(683.7 908.4) scale(0.2748 0.2880)"><path transform="translate(0 0)" d="M3,-100 H53 L24,-60 C44,-61 56,-49 56,-31 C56,-11 43,0 27,0 C14,0 4,-7 0,-17" fill="none" stroke="#000" stroke-width="2.9" stroke-linecap="round" stroke-linejoin="round" vector-effect="non-scaling-stroke"/><path transform="translate(82 0)" d="M0,-100 H55 C40,-72 26,-40 18,0" fill="none" stroke="#000" stroke-width="2.9" stroke-linecap="round" stroke-linejoin="round" vector-effect="non-scaling-stroke"/><path transform="translate(163 0)" d="M0,-50 H50 M22,-82 H28 V-76 H22 Z M22,-24 H28 V-18 H22 Z" fill="none" stroke="#000" stroke-width="2.9" stroke-linecap="round" stroke-linejoin="round" vector-effect="non-scaling-stroke"/><path transform="translate(239 0)" d="M42,0 V-100 L0,-30 H60" fill="none" stroke="#000" stroke-width="2.9" stroke-linecap="round" stroke-linejoin="round" vector-effect="non-scaling-stroke"/><path transform="translate(325 0)" d="M42,0 V-100 L0,-30 H60" fill="none" stroke="#000" stroke-width="2.9" stroke-linecap="round" stroke-linejoin="round" vector-effect="non-scaling-stroke"/></g>
<line x1="676" y1="917.3" x2="845.6" y2="917.3" stroke="#333" stroke-width="2.2" fill="none"/>
<path transform="translate(838.2 917.3) rotate(0)" d="M0.5,-1.4 C-8,-2 -15,-3.3 -24,-5.3 L-24,5.3 C-15,3.3 -8,2 0.5,1.4 Z" fill="#000"/>
<line x1="845.6" y1="862.5" x2="845.6" y2="931.7" stroke="#333" stroke-width="2.2" fill="none"/>
<line x1="877.5" y1="912" x2="877.5" y2="961" stroke="#333" stroke-width="2.2" fill="none"/>
<path transform="translate(877.5 961) rotate(90)" d="M0.5,-1.4 C-8,-2 -15,-3.3 -27.8,-5.3 L-27.8,5.3 C-15,3.3 -8,2 0.5,1.4 Z" fill="#000"/>
<line x1="877.5" y1="1025" x2="877.5" y2="1216" stroke="#333" stroke-width="2.2" fill="none"/>
<path transform="translate(877.5 1025) rotate(-90)" d="M0.5,-1.4 C-8,-2 -15,-3.3 -27.8,-5.3 L-27.8,5.3 C-15,3.3 -8,2 0.5,1.4 Z" fill="#000"/>
<g transform="translate(860.2 1208.5) rotate(-90) scale(1.2 0.9)"><path transform="translate(1.3 -1.3) scale(0.3050 0.2890)" d="M59,-80 C54,-93 44,-100 32,-100 C12,-100 0,-78 0,-50 C0,-21 12,0 32,0 C47,0 60,-12 60,-32 V-44 H36" fill="none" stroke="#000" stroke-width="2.9" stroke-linecap="round" stroke-linejoin="round" vector-effect="non-scaling-stroke"/><path transform="translate(27.6 -1.3) scale(0.2625 0.2890)" d="M3,-100 H53 L24,-60 C44,-61 56,-49 56,-31 C56,-11 43,0 27,0 C14,0 4,-7 0,-17" fill="none" stroke="#000" stroke-width="2.9" stroke-linecap="round" stroke-linejoin="round" vector-effect="non-scaling-stroke"/><path d="M48.8,8 L66.8,-35" fill="none" stroke="#000" stroke-width="2.9" stroke-linecap="round" stroke-linejoin="round" vector-effect="non-scaling-stroke"/><path transform="translate(74.7 -1.3) scale(0.2717 0.2890)" d="M42,0 V-100 L0,-30 H60" fill="none" stroke="#000" stroke-width="2.9" stroke-linecap="round" stroke-linejoin="round" vector-effect="non-scaling-stroke"/><circle cx="99.3" cy="-31.8" r="2.3" fill="#000"/><path d="M101.1,-31 C100.9,-28.5 99.5,-26.8 97.3,-25.6" fill="none" stroke="#000" stroke-width="1.8" stroke-linecap="round" vector-effect="non-scaling-stroke"/><circle cx="107.1" cy="-31.8" r="2.3" fill="#000"/><path d="M108.9,-31 C108.7,-28.5 107.3,-26.8 105.1,-25.6" fill="none" stroke="#000" stroke-width="1.8" stroke-linecap="round" vector-effect="non-scaling-stroke"/></g>
<rect x="918" y="928.8" width="18.6" height="128.2" rx="0" stroke="#000" stroke-width="2.4" fill="none"/>
<path d="M936.6,928.8 C940,930 943,936 948,942 C956,952 965,959 980,964 C1000,970 1020,973 1050,973.2 C1080,973.2 1110,974 1130,977 C1160,985 1185,1000 1200.8,1030.8 C1207,1045 1210,1058 1216,1072" stroke="#000" stroke-width="2.4" fill="none"/>
<path d="M936.6,1057 C942,1052 946,1042 960,1032 C980,1018 1010,1014 1050,1013.8 C1080,1013.8 1100,1014 1115,1020 C1135,1030 1148,1045 1148.5,1062 L1145.8,1077.8" stroke="#000" stroke-width="2.4" fill="none"/>
<polygon points="1145.2,1078.5 1217,1072 1219,1087.5 1145.2,1094.5" stroke="#000" stroke-width="2.4" fill="none"/>
<line x1="1145.2" y1="1089" x2="1218.5" y2="1080.6" stroke="#000" stroke-width="1.9" fill="none"/>
<line x1="1182.6" y1="1058" x2="1182.6" y2="1093" stroke="#000" stroke-width="1.9" fill="none"/>
<line x1="919" y1="917" x2="966" y2="917" stroke="#333" stroke-width="2.2" fill="none"/>
<path transform="translate(919 917) rotate(180)" d="M0.5,-1.4 C-8,-2 -15,-3.3 -24,-5.3 L-24,5.3 C-15,3.3 -8,2 0.5,1.4 Z" fill="#000"/>
<line x1="951" y1="928.8" x2="1003" y2="928.8" stroke="#333" stroke-width="2.2" fill="none"/>
<line x1="951" y1="1057" x2="1003" y2="1057" stroke="#333" stroke-width="2.2" fill="none"/>
<line x1="992.3" y1="872" x2="992.3" y2="928.8" stroke="#333" stroke-width="2.2" fill="none"/>
<path transform="translate(992.3 928.8) rotate(90)" d="M0.5,-1.4 C-8,-2 -15,-3.3 -27.8,-5.3 L-27.8,5.3 C-15,3.3 -8,2 0.5,1.4 Z" fill="#000"/>
<line x1="992.3" y1="1057" x2="992.3" y2="1202.8" stroke="#333" stroke-width="2.2" fill="none"/>
<path transform="translate(992.3 1057) rotate(-90)" d="M0.5,-1.4 C-8,-2 -15,-3.3 -27.8,-5.3 L-27.8,5.3 C-15,3.3 -8,2 0.5,1.4 Z" fill="#000"/>
<g transform="translate(982.8 1193.3) rotate(-90) scale(0.3226 0.2360)"><path transform="translate(0 0)" d="M31,-88 C13,-88 3,-70 3,-44 C3,-18 13,0 31,0 C49,0 59,-18 59,-44 C59,-70 49,-88 31,-88 Z M-2,6 L64,-96" fill="none" stroke="#000" stroke-width="2.9" stroke-linecap="round" stroke-linejoin="round" vector-effect="non-scaling-stroke"/><path transform="translate(88 0)" d="M51,-86 C47,-95 39,-100 29,-100 C10,-100 0,-80 0,-50 C0,-17 11,0 29,0 C46,0 56,-13 56,-32 C56,-50 45,-62 29,-62 C14,-62 3,-52 0,-38" fill="none" stroke="#000" stroke-width="2.9" stroke-linecap="round" stroke-linejoin="round" vector-effect="non-scaling-stroke"/><path transform="translate(170 0)" d="M28,-54 C14,-54 4,-63 4,-77 C4,-91 14,-100 28,-100 C42,-100 52,-91 52,-77 C52,-63 42,-54 28,-54 Z M28,-54 C12,-54 0,-43 0,-27 C0,-10 12,0 28,0 C44,0 56,-10 56,-27 C56,-43 44,-54 28,-54 Z" fill="none" stroke="#000" stroke-width="2.9" stroke-linecap="round" stroke-linejoin="round" vector-effect="non-scaling-stroke"/></g>
<line x1="918.2" y1="1087" x2="918.2" y2="1246.5" stroke="#333" stroke-width="2.2" fill="none"/>
<line x1="1182.1" y1="1099.4" x2="1182.1" y2="1246" stroke="#333" stroke-width="2.2" fill="none"/>
<line x1="1183.2" y1="1120" x2="1193.6" y2="1246" stroke="#000" stroke-width="1.9" fill="none"/>
<line x1="918.2" y1="1232.3" x2="1182.1" y2="1232.3" stroke="#333" stroke-width="2.2" fill="none"/>
<path transform="translate(918.2 1232.3) rotate(180)" d="M0.5,-1.4 C-8,-2 -15,-3.3 -24,-5.3 L-24,5.3 C-15,3.3 -8,2 0.5,1.4 Z" fill="#000"/>
<path transform="translate(1182.1 1232.3) rotate(0)" d="M0.5,-1.4 C-8,-2 -15,-3.3 -24,-5.3 L-24,5.3 C-15,3.3 -8,2 0.5,1.4 Z" fill="#000"/>
<g transform="translate(1020.9 1222.8) scale(0.2990 0.2910)"><path transform="translate(0 0)" d="M0,-76 C12,-82 22,-90 30,-100 V0" fill="none" stroke="#000" stroke-width="2.9" stroke-linecap="round" stroke-linejoin="round" vector-effect="non-scaling-stroke"/><path transform="translate(56 0)" d="M51,-86 C47,-95 39,-100 29,-100 C10,-100 0,-80 0,-50 C0,-17 11,0 29,0 C46,0 56,-13 56,-32 C56,-50 45,-62 29,-62 C14,-62 3,-52 0,-38" fill="none" stroke="#000" stroke-width="2.9" stroke-linecap="round" stroke-linejoin="round" vector-effect="non-scaling-stroke"/><path transform="translate(138 0)" d="M28,-100 C9,-100 0,-78 0,-50 C0,-22 9,0 28,0 C47,0 56,-22 56,-50 C56,-78 47,-100 28,-100 Z" fill="none" stroke="#000" stroke-width="2.9" stroke-linecap="round" stroke-linejoin="round" vector-effect="non-scaling-stroke"/></g>
<path transform="translate(1193.6 1232) rotate(171.5)" d="M0.5,-1.4 C-8,-2 -15,-3.3 -24.1,-5.3 L-24.1,5.3 C-15,3.3 -8,2 0.5,1.4 Z" fill="#000"/>
<line x1="1210" y1="1229.5" x2="1238.7" y2="1215" stroke="#333" stroke-width="2.2" fill="none"/>
<g transform="translate(1214.5 1212.5) rotate(-16)"><path transform="translate(0 0) scale(0.3214 0.2900)" d="M51,-100 H6 L3,-55 C10,-61 19,-64 28,-64 C45,-64 56,-50 56,-32 C56,-12 44,0 28,0 C14,0 4,-7 0,-17" fill="none" stroke="#000" stroke-width="2.9" stroke-linecap="round" stroke-linejoin="round" vector-effect="non-scaling-stroke"/></g>
<circle cx="1231.7" cy="1182.8" r="2.6" fill="none" stroke="#000" stroke-width="2"/>
</svg>
</body></html>
